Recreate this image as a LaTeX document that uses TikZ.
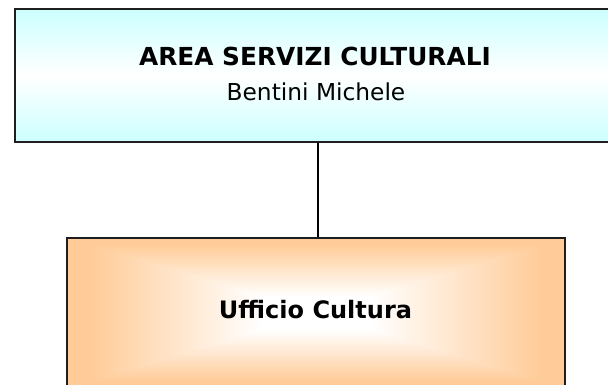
\documentclass[tikz,border=0pt]{standalone}
\usepackage{fontspec}
\setmainfont{DejaVu Sans}
\definecolor{cyanlight}{RGB}{204,255,255}
\definecolor{peach}{RGB}{255,204,153}
\definecolor{boxline}{RGB}{30,30,30}
\pgfdeclarefunctionalshading{rectgrad}{\pgfpoint{-50bp}{-50bp}}{\pgfpoint{50bp}{50bp}}{}{%
 abs exch abs 2 copy lt {exch} if pop 25 div
 0.22 sub 0.68 div
 dup 1 gt {pop 1} if
 dup 0 lt {pop 0} if
 dup 0.2 mul 1 exch sub exch 0.4 mul 1 exch sub 1 3 1 roll
}
\tikzset{
  orgbox/.style={draw=boxline, line width=1.8pt, inner sep=0pt, anchor=north west},
  titletext/.style={font=\fontsize{24.8}{28}\selectfont\bfseries, anchor=base, inner sep=0pt},
  nametext/.style={font=\fontsize{23.3}{27}\selectfont, anchor=base, inner sep=0pt},
  uffext/.style={font=\fontsize{24}{28}\selectfont\bfseries, anchor=base, inner sep=0pt},
  link/.style={draw=black, line width=1.8pt}
}
\begin{document}
\begin{tikzpicture}[x=1pt,y=-1pt]
\useasboundingbox (0,0) rectangle (608,384);
\fill[white] (0,0) rectangle (608,384);
\begin{scope}
\clip (0,0) rectangle (608,384);
\node[orgbox, top color=cyanlight, bottom color=cyanlight, middle color=white,
      minimum width=602pt, minimum height=133pt] (area) at (14,8) {};
\node[orgbox, shading=rectgrad, minimum width=498pt, minimum height=150pt] (uff) at (66,237) {};
\end{scope}
\node[titletext] (t1) at (315,65) {AREA SERVIZI CULTURALI};
\node[nametext] (t2) at (316,100) {Bentini Michele};
\node[uffext] (t3) at (315.5,318) {Ufficio Cultura};
\draw[link] ([xshift=1.7pt]uff.north) -- ([xshift=1.7pt]uff.north |- area.south);
\end{tikzpicture}
\end{document}
